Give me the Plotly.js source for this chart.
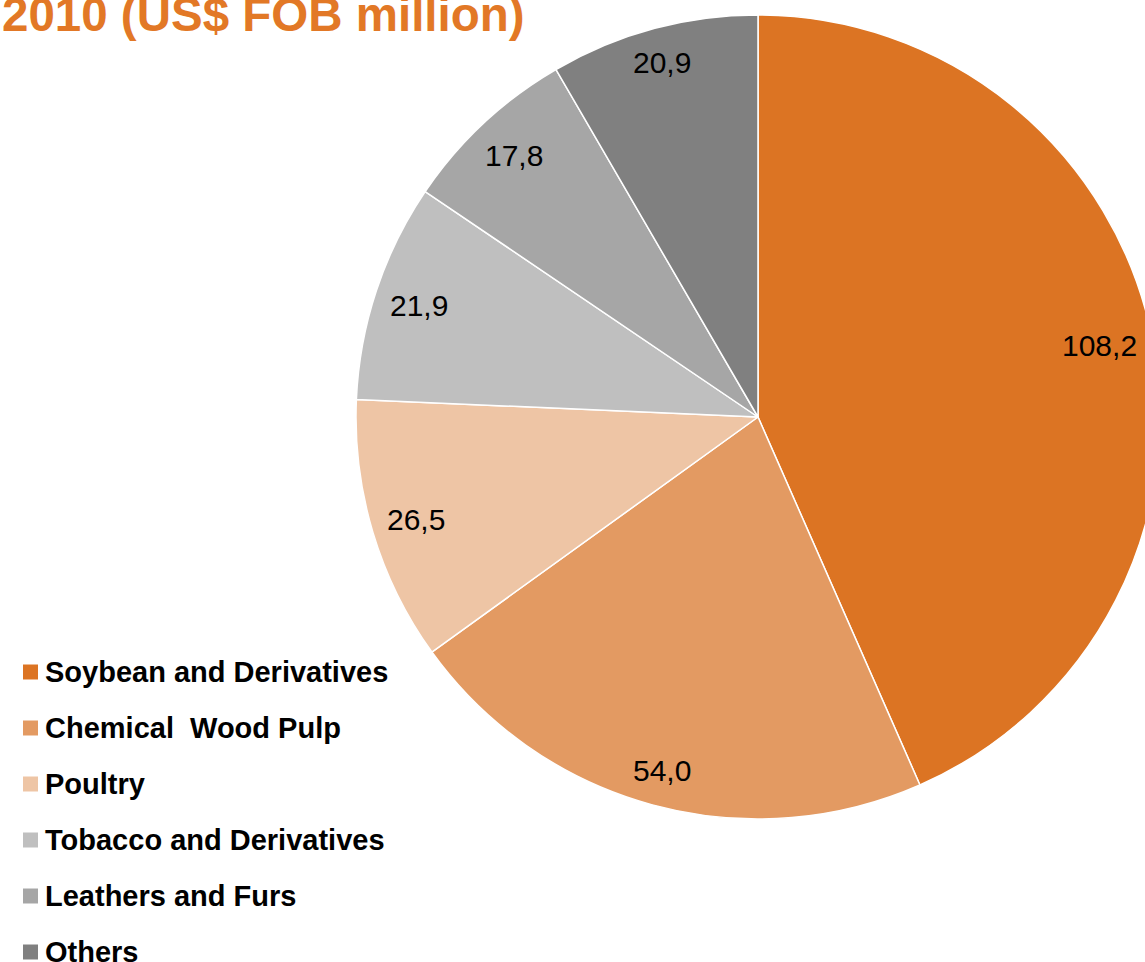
<!DOCTYPE html>
<html>
<head>
<meta charset="utf-8">
<script src="https://cdn.plot.ly/plotly-3.0.1.min.js"></script>
<style>
html,body{margin:0;padding:0;overflow:hidden;background:#fff;}
#chart{width:1200px;height:962px;}
</style>
</head>
<body>
<div id="chart"></div>
<script>
const categories = ["Soybean and Derivatives", "Chemical  Wood Pulp", "Poultry", "Tobacco and Derivatives", "Leathers and Furs", "Others"];
const values = [108.2, 54.0, 26.5, 21.9, 17.8, 20.9];
const valueLabels = ["108,2", "54,0", "26,5", "21,9", "17,8", "20,9"];
const colors = ["#DC7423", "#E39A62", "#EEC5A5", "#BFBFBF", "#A6A6A6", "#808080"];
const titleText = "2010 (US$ FOB million)";

const W = 1200, H = 962;
const cx = 758, cy = 417, R = 402;
const px2x = p => p / W;
const py2y = p => 1 - p / H;

const labelFont = 30;
const ctx = document.createElement('canvas').getContext('2d');
ctx.font = labelFont + 'px "Liberation Sans", Arial, sans-serif';

const total = values.reduce((a, b) => a + b, 0);
const annotations = [];
let cum = 0;
values.forEach((v, i) => {
  const mid = (cum + v / 2) / total * 2 * Math.PI;
  cum += v;
  const s = Math.sin(mid), c = Math.cos(mid);
  const w = ctx.measureText(valueLabels[i]).width;
  const h = labelFont;
  // "inside end": label box kept inside the rim
  const d = (R - 13) - (w / 2 * Math.abs(s) + h / 2 * Math.abs(c));
  annotations.push({
    x: px2x(cx + d * s), y: py2y(cy - d * c),
    xref: 'paper', yref: 'paper', xanchor: 'center', yanchor: 'middle',
    text: valueLabels[i], showarrow: false,
    font: {family: 'Liberation Sans, Arial, sans-serif', size: labelFont, color: '#000'}
  });
});

// title
annotations.push({
  x: px2x(0), y: py2y(14), xref: 'paper', yref: 'paper', xanchor: 'left', yanchor: 'middle',
  text: '<b>' + titleText + '</b>', showarrow: false,
  font: {family: 'Liberation Sans, Arial, sans-serif', size: 47.5, color: '#E27826'}
});

// manual legend
const shapes = [];
const legTop = 672, legStep = 56;
categories.forEach((cat, i) => {
  const yc = legTop + i * legStep;
  shapes.push({type: 'rect', xref: 'paper', yref: 'paper',
    x0: px2x(23), x1: px2x(38), y0: py2y(yc - 7.5), y1: py2y(yc + 7.5),
    fillcolor: colors[i], line: {width: 0}});
  annotations.push({
    x: px2x(43), y: py2y(yc), xref: 'paper', yref: 'paper', xanchor: 'left', yanchor: 'middle',
    text: '<b>' + cat.replace(/  /g, '&nbsp; ') + '</b>', showarrow: false,
    font: {family: 'Liberation Sans, Arial, sans-serif', size: 29, color: '#000'}
  });
});

const trace = {
  type: 'pie',
  labels: categories,
  values: values,
  sort: false,
  direction: 'clockwise',
  rotation: 0,
  textinfo: 'none',
  hoverinfo: 'label+value',
  marker: {colors: colors, line: {color: '#FFFFFF', width: 1.5}},
  domain: {x: [px2x(cx - R), px2x(cx + R)], y: [py2y(cy + R), py2y(cy - R)]},
  showlegend: false
};

const layout = {
  width: W, height: H,
  margin: {l: 0, r: 0, t: 0, b: 0},
  paper_bgcolor: '#fff',
  showlegend: false,
  annotations: annotations,
  shapes: shapes
};

Plotly.newPlot('chart', [trace], layout, {displayModeBar: false, staticPlot: true});
</script>
</body>
</html>
